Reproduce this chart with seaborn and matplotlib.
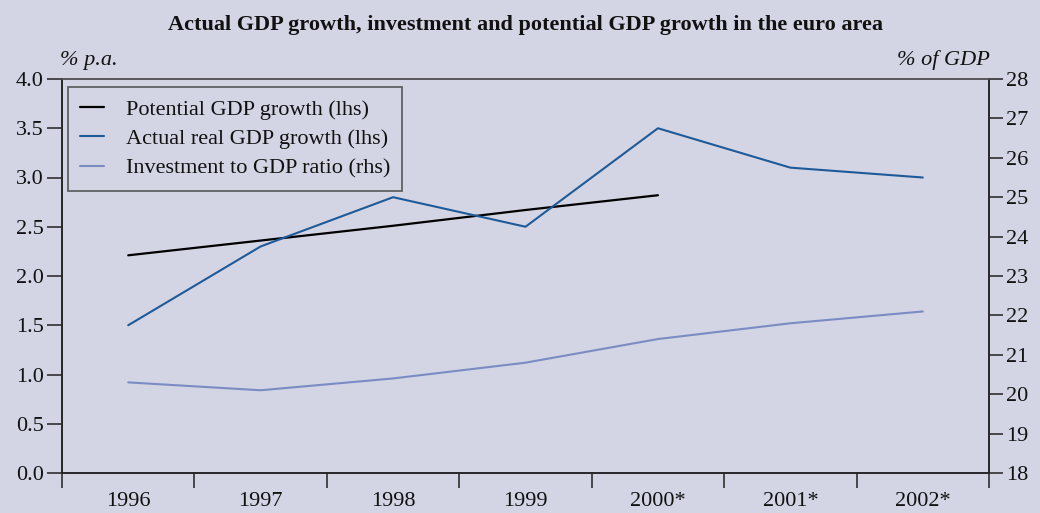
import matplotlib
matplotlib.use("Agg")
import matplotlib.pyplot as plt
from matplotlib.lines import Line2D
import seaborn as sns
import pandas as pd

years = ["1996", "1997", "1998", "1999", "2000*", "2001*", "2002*"]
potential_growth = [2.21, 2.36, 2.51, 2.67, 2.82, None, None]
actual_growth = [1.5, 2.3, 2.8, 2.5, 3.5, 3.1, 3.0]
investment_ratio = [20.3, 20.1, 20.4, 20.8, 21.4, 21.8, 22.1]

BG = "#d3d5e5"
C_POT = "#000000"
C_ACT = "#1f5a98"
C_INV = "#7a8cc2"

sns.set_theme(style="white")
plt.rcParams["font.family"] = ["Liberation Serif", "DejaVu Serif"]
plt.rcParams["axes.facecolor"] = BG
plt.rcParams["figure.facecolor"] = BG

df = pd.DataFrame({
    "pos": range(len(years)),
    "potential": potential_growth,
    "actual": actual_growth,
    "investment": investment_ratio,
})

fig = plt.figure(figsize=(10.4, 5.13), dpi=100)
ax = fig.add_axes([62 / 1040, 1 - 473 / 513, (989 - 62) / 1040, (473 - 79) / 513])
ax2 = ax.twinx()

sns.lineplot(data=df.dropna(subset=["potential"]), x="pos", y="potential", ax=ax,
             color=C_POT, linewidth=1.6)
sns.lineplot(data=df, x="pos", y="actual", ax=ax, color=C_ACT, linewidth=1.5)
sns.lineplot(data=df, x="pos", y="investment", ax=ax2, color=C_INV, linewidth=1.5)

ax.set_xlim(-0.5, len(years) - 0.5)
ax.set_ylim(0, 4)
ax2.set_ylim(18, 28)
ax.set_xlabel("")
ax.set_ylabel("")
ax2.set_ylabel("")

# Category labels sit between boundary ticks
ax.set_xticks([i - 0.5 for i in range(len(years) + 1)])
ax.set_xticklabels([])
ax.set_xticks(range(len(years)), minor=True)
ax.set_xticklabels(years, minor=True, fontsize=16)
ax.tick_params(axis="x", which="major", direction="out", length=10.5, width=1.1,
               color="#222222", bottom=True)
ax.tick_params(axis="x", which="minor", length=0, pad=14, labelcolor="#111111")

ax.set_yticks([0, 0.5, 1, 1.5, 2, 2.5, 3, 3.5, 4])
ax.set_yticklabels([f"{v:.1f}" for v in ax.get_yticks()], fontsize=16)
ax.tick_params(axis="y", direction="out", length=11, width=1.1, color="#222222",
               left=True, pad=2, labelcolor="#111111")
ax2.set_yticks(range(18, 29))
ax2.set_yticklabels([str(v) for v in range(18, 29)], fontsize=16)
ax2.tick_params(axis="y", direction="out", length=10, width=1.1, color="#222222",
                right=True, pad=2, labelcolor="#111111")

for a in (ax, ax2):
    for side in ("left", "right", "bottom"):
        a.spines[side].set_color("#222222")
        a.spines[side].set_linewidth(1.1)
    a.spines["top"].set_color("#555555")
    a.spines["top"].set_linewidth(1.1)
    a.grid(False)

fig.text(526 / 1040, 1 - 25 / 513, "Actual GDP growth, investment and potential GDP growth in the euro area",
         ha="center", va="center", fontsize=16, fontweight="bold", color="#111111")
fig.text(60 / 1040, 1 - 60 / 513, "% p.a.", ha="left", va="center",
         fontsize=16, style="italic", color="#111111")
fig.text(990 / 1040, 1 - 60 / 513, "% of GDP", ha="right", va="center",
         fontsize=16, style="italic", color="#111111")

handles = [
    Line2D([], [], color=C_POT, linewidth=1.6),
    Line2D([], [], color=C_ACT, linewidth=1.5),
    Line2D([], [], color=C_INV, linewidth=1.5),
]
labels = ["Potential GDP growth (lhs)", "Actual real GDP growth (lhs)",
          "Investment to GDP ratio (rhs)"]
leg = ax2.legend(handles, labels, loc="upper left", bbox_to_anchor=(6 / 927, 1 - 8 / 394),
                 fontsize=16, frameon=True, fancybox=False,
                 handlelength=1.05, handletextpad=1.0, borderpad=0.55, labelspacing=0.4,
                 borderaxespad=0)
frame = leg.get_frame()
frame.set_facecolor("none")
frame.set_edgecolor("#444444")
frame.set_linewidth(1.3)
for t in leg.get_texts():
    t.set_color("#111111")

fig.savefig("out.png", dpi=100, facecolor=BG)
